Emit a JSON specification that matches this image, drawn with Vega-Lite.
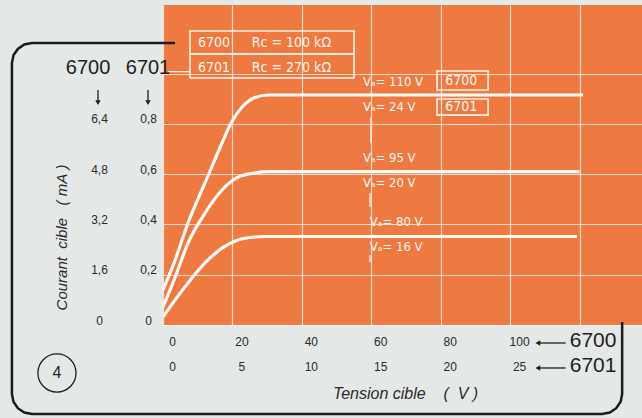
{
  "$schema": "https://vega.github.io/schema/vega-lite/v6.json",
  "width": 479,
  "height": 320,
  "autosize": {"type": "none"},
  "padding": {"left": 163, "top": 5, "right": 0, "bottom": 93},
  "background": "#e4e8e7",
  "view": {"fill": "#ee7a42", "stroke": null},
  "config": {"font": "Liberation Sans"},
  "resolve": {"scale": {"y": "independent"}, "axis": {"y": "independent", "x": "independent"}},
  "layer": [
    {
      "data": {"values": [
        {"o": 1, "x": 3.46, "y": 1.122},
        {"o": 2, "x": -37.75, "y": 1.122},
        {"o": 3, "x": -39.97, "y": 1.116},
        {"o": 4, "x": -41.82, "y": 1.098},
        {"o": 5, "x": -43.08, "y": 1.073},
        {"o": 6, "x": -43.52, "y": 1.042},
        {"o": 7, "x": -43.52, "y": -0.275},
        {"o": 8, "x": -43.08, "y": -0.305},
        {"o": 9, "x": -41.82, "y": -0.331},
        {"o": 10, "x": -39.97, "y": -0.348},
        {"o": 11, "x": -37.75, "y": -0.354},
        {"o": 12, "x": 126.51, "y": -0.354},
        {"o": 13, "x": 128.73, "y": -0.348},
        {"o": 14, "x": 130.58, "y": -0.331},
        {"o": 15, "x": 131.84, "y": -0.305},
        {"o": 16, "x": 132.28, "y": -0.275},
        {"o": 17, "x": 132.28, "y": 0.012}
      ]},
      "mark": {"type": "line", "color": "#1c1c1c", "strokeWidth": 2.5, "clip": false, "interpolate": "linear"},
      "encoding": {
        "x": {"field": "x", "type": "quantitative", "scale": {"domain": [0, 138], "nice": false, "zero": false},
          "axis": {
            "orient": "bottom",
            "values": [0, 20, 40, 60, 80, 100, 120],
            "labelExpr": "datum.value > 110 ? '' : [format(datum.value, 'd'), format(datum.value / 4, 'd')]",
            "grid": true, "gridColor": "#ffffff", "gridOpacity": 0.75, "gridWidth": 1.2,
            "domain": false, "ticks": false, "tickSize": 0,
            "labelAlign": "center", "labelOffset": 9, "labelPadding": 11, "labelBaseline": "top", "labelLineHeight": 25,
            "labelOverlap": false, "labelBound": false, "labelFlush": false,
            "labelFontSize": 12, "labelColor": "#2a2a2a", "labelFont": "Liberation Sans",
            "title": "Tension cible\u00a0\u00a0\u00a0\u00a0(\u00a0\u00a0V\u00a0)",
            "titleX": 242, "titleY": 68, "titleAlign": "center", "titleBaseline": "middle",
            "titleFontStyle": "italic", "titleFontWeight": "normal", "titleFontSize": 16, "titleColor": "#2a2a2a", "titleFont": "Liberation Sans"
          }
        },
        "y": {"field": "y", "type": "quantitative", "scale": {"domain": [0, 1.273], "nice": false, "zero": false},
          "axis": {
            "orient": "left",
            "values": [0, 0.2, 0.4, 0.6, 0.8],
            "labelExpr": "datum.value == 0 ? '0' : replace(format(datum.value * 8, '.1f'), '.', ',')",
            "grid": false, "domain": false, "ticks": false, "tickSize": 0,
            "labelPadding": 64, "labelAlign": "center", "labelBaseline": "alphabetic", "labelOffset": -1,
            "labelFontSize": 12, "labelColor": "#2a2a2a", "labelFont": "Liberation Sans",
            "title": "Courant\u00a0\u00a0cible\u00a0\u00a0\u00a0(\u00a0mA\u00a0)",
            "titleX": -102, "titleY": 232, "titleAngle": 270, "titleAlign": "center", "titleBaseline": "middle",
            "titleFontStyle": "italic", "titleFontWeight": "normal", "titleFontSize": 15, "titleColor": "#2a2a2a", "titleFont": "Liberation Sans"
          }
        },
        "order": {"field": "o", "type": "quantitative"}
      }
    },
    {
      "data": {"values": [
        {"s": "A", "x": 0, "y": 0.14},
        {"s": "A", "x": 3.5, "y": 0.258},
        {"s": "A", "x": 7.2, "y": 0.406},
        {"s": "A", "x": 12.1, "y": 0.565},
        {"s": "A", "x": 17, "y": 0.724},
        {"s": "A", "x": 19.6, "y": 0.803},
        {"s": "A", "x": 22.8, "y": 0.867},
        {"s": "A", "x": 26.5, "y": 0.905},
        {"s": "A", "x": 30.3, "y": 0.915},
        {"s": "A", "x": 121, "y": 0.915},
        {"s": "B", "x": 0, "y": 0.072},
        {"s": "B", "x": 3.5, "y": 0.19},
        {"s": "B", "x": 7.2, "y": 0.326},
        {"s": "B", "x": 12.1, "y": 0.445},
        {"s": "B", "x": 17, "y": 0.537},
        {"s": "B", "x": 21.6, "y": 0.588},
        {"s": "B", "x": 26.5, "y": 0.605},
        {"s": "B", "x": 30.3, "y": 0.61},
        {"s": "B", "x": 120, "y": 0.61},
        {"s": "C", "x": 0, "y": 0.032},
        {"s": "C", "x": 3.5, "y": 0.1},
        {"s": "C", "x": 7.2, "y": 0.167},
        {"s": "C", "x": 12.1, "y": 0.247},
        {"s": "C", "x": 17, "y": 0.306},
        {"s": "C", "x": 21.6, "y": 0.338},
        {"s": "C", "x": 26.5, "y": 0.35},
        {"s": "C", "x": 30, "y": 0.352},
        {"s": "C", "x": 119.3, "y": 0.352}
      ]},
      "mark": {"type": "line", "color": "#fffaf5", "strokeWidth": 3.2, "interpolate": "monotone", "clip": false},
      "encoding": {
        "x": {"field": "x", "type": "quantitative", "scale": {"domain": [0, 138], "nice": false, "zero": false}, "axis": null},
        "y": {"field": "y", "type": "quantitative", "scale": {"domain": [0, 1.273], "nice": false, "zero": false},
          "axis": {
            "orient": "left",
            "values": [0, 0.2, 0.4, 0.6, 0.8, 1],
            "labelExpr": "datum.value > 0.9 ? '' : (datum.value == 0 ? '0' : replace(format(datum.value, '.1f'), '.', ','))",
            "grid": true, "gridColor": "#ffffff", "gridOpacity": 0.75, "gridWidth": 1.2,
            "domain": false, "ticks": false, "tickSize": 0,
            "labelPadding": 15, "labelAlign": "center", "labelBaseline": "alphabetic", "labelOffset": -1,
            "labelFontSize": 12, "labelColor": "#2a2a2a", "labelFont": "Liberation Sans",
            "title": null
          }
        },
        "detail": {"field": "s", "type": "nominal"}
      }
    },
    {
      "data": {"values": [
        {"x": 7.78, "x2": 55.04, "y": 1.1695, "y2": 1.078},
        {"x": 7.78, "x2": 55.04, "y": 1.078, "y2": 0.9825},
        {"x": 78.96, "x2": 93.66, "y": 1.0103, "y2": 0.9348},
        {"x": 78.96, "x2": 93.66, "y": 0.899, "y2": 0.835}
      ]},
      "mark": {"type": "rect", "filled": false, "color": "#fff3ea", "strokeWidth": 1.6, "clip": false},
      "encoding": {
        "x": {"field": "x", "type": "quantitative", "scale": {"domain": [0, 138], "nice": false, "zero": false}, "axis": null},
        "x2": {"field": "x2"},
        "y": {"field": "y", "type": "quantitative", "scale": {"domain": [0, 1.273], "nice": false, "zero": false}, "axis": null},
        "y2": {"field": "y2"}
      }
    },
    {
      "data": {"values": [
        {"x": 59.9, "x2": 59.9, "y": 0.827, "y2": 0.724},
        {"x": 59.65, "x2": 59.65, "y": 0.525, "y2": 0.469},
        {"x": 59.65, "x2": 59.65, "y": 0.278, "y2": 0.25},
        {"x": 1.5, "x2": 7.78, "y": 1.008, "y2": 1.008}
      ]},
      "mark": {"type": "rule", "color": "#fff3ea", "strokeWidth": 1.2, "clip": false},
      "encoding": {
        "x": {"field": "x", "type": "quantitative", "scale": {"domain": [0, 138], "nice": false, "zero": false}, "axis": null},
        "x2": {"field": "x2"},
        "y": {"field": "y", "type": "quantitative", "scale": {"domain": [0, 1.273], "nice": false, "zero": false}, "axis": null},
        "y2": {"field": "y2"}
      }
    },
    {
      "data": {"values": [
        {"x": -18.73, "x2": -18.73, "y": 0.935, "y2": 0.885},
        {"x": -4.32, "x2": -4.32, "y": 0.935, "y2": 0.885},
        {"x": 108.5, "x2": 116.0, "y": -0.0716, "y2": -0.0716},
        {"x": 108.5, "x2": 116.0, "y": -0.171, "y2": -0.171}
      ]},
      "mark": {"type": "rule", "color": "#1e1e1e", "strokeWidth": 1.3, "clip": false},
      "encoding": {
        "x": {"field": "x", "type": "quantitative", "scale": {"domain": [0, 138], "nice": false, "zero": false}, "axis": null},
        "x2": {"field": "x2"},
        "y": {"field": "y", "type": "quantitative", "scale": {"domain": [0, 1.273], "nice": false, "zero": false}, "axis": null},
        "y2": {"field": "y2"}
      }
    },
    {
      "data": {"values": [
        {"x": -18.73, "y": 0.885, "sh": "triangle-down"},
        {"x": -4.32, "y": 0.885, "sh": "triangle-down"},
        {"x": 108.0, "y": -0.0716, "sh": "triangle-left"},
        {"x": 108.0, "y": -0.171, "sh": "triangle-left"}
      ]},
      "mark": {"type": "point", "filled": true, "color": "#1e1e1e", "size": 30, "opacity": 1, "clip": false},
      "encoding": {
        "x": {"field": "x", "type": "quantitative", "scale": {"domain": [0, 138], "nice": false, "zero": false}, "axis": null},
        "y": {"field": "y", "type": "quantitative", "scale": {"domain": [0, 1.273], "nice": false, "zero": false}, "axis": null},
        "shape": {"field": "sh", "type": "nominal", "scale": null}
      }
    },
    {
      "data": {"values": [
        {"t": "6700", "x": 10.1, "y": 1.122, "fs": 14},
        {"t": "Rc = 100 kΩ", "x": 25.6, "y": 1.122, "fs": 14},
        {"t": "6701", "x": 10.1, "y": 1.024, "fs": 14},
        {"t": "Rc = 270 kΩ", "x": 25.6, "y": 1.024, "fs": 14},
        {"t": "Vₐ= 110 V", "x": 57.6, "y": 0.967, "fs": 13},
        {"t": "6700", "x": 81.3, "y": 0.97, "fs": 14},
        {"t": "Vₐ= 24 V", "x": 57.6, "y": 0.867, "fs": 13},
        {"t": "6701", "x": 81.3, "y": 0.867, "fs": 14},
        {"t": "Vₐ= 95 V", "x": 57.6, "y": 0.664, "fs": 13},
        {"t": "Vₐ= 20 V", "x": 57.6, "y": 0.565, "fs": 13},
        {"t": "Vₐ= 80 V", "x": 59.6, "y": 0.41, "fs": 13},
        {"t": "Vₐ= 16 V", "x": 59.6, "y": 0.31, "fs": 13}
      ]},
      "mark": {"type": "text", "align": "left", "baseline": "middle", "color": "#fff6ef", "font": "DejaVu Sans Condensed", "clip": false},
      "encoding": {
        "x": {"field": "x", "type": "quantitative", "scale": {"domain": [0, 138], "nice": false, "zero": false}, "axis": null},
        "y": {"field": "y", "type": "quantitative", "scale": {"domain": [0, 1.273], "nice": false, "zero": false}, "axis": null},
        "text": {"field": "t", "type": "nominal"},
        "size": {"field": "fs", "type": "quantitative", "scale": null}
      }
    },
    {
      "data": {"values": [
        {"t": "6700", "x": -21.6, "y": 1.022, "fs": 20},
        {"t": "6701", "x": -4.32, "y": 1.022, "fs": 20},
        {"t": "6700", "x": 123.9, "y": -0.0636, "fs": 21},
        {"t": "6701", "x": 123.9, "y": -0.163, "fs": 21},
        {"t": "4", "x": -30.55, "y": -0.191, "fs": 16}
      ]},
      "mark": {"type": "text", "align": "center", "baseline": "middle", "color": "#1e1e1e", "font": "Liberation Sans", "clip": false},
      "encoding": {
        "x": {"field": "x", "type": "quantitative", "scale": {"domain": [0, 138], "nice": false, "zero": false}, "axis": null},
        "y": {"field": "y", "type": "quantitative", "scale": {"domain": [0, 1.273], "nice": false, "zero": false}, "axis": null},
        "text": {"field": "t", "type": "nominal"},
        "size": {"field": "fs", "type": "quantitative", "scale": null}
      }
    },
    {
      "data": {"values": [{"x": -30.55, "y": -0.191}]},
      "mark": {"type": "point", "shape": "circle", "filled": false, "color": "#1e1e1e", "strokeWidth": 1.3, "size": 1450, "clip": false, "opacity": 1},
      "encoding": {
        "x": {"field": "x", "type": "quantitative", "scale": {"domain": [0, 138], "nice": false, "zero": false}, "axis": null},
        "y": {"field": "y", "type": "quantitative", "scale": {"domain": [0, 1.273], "nice": false, "zero": false}, "axis": null}
      }
    }
  ]
}
